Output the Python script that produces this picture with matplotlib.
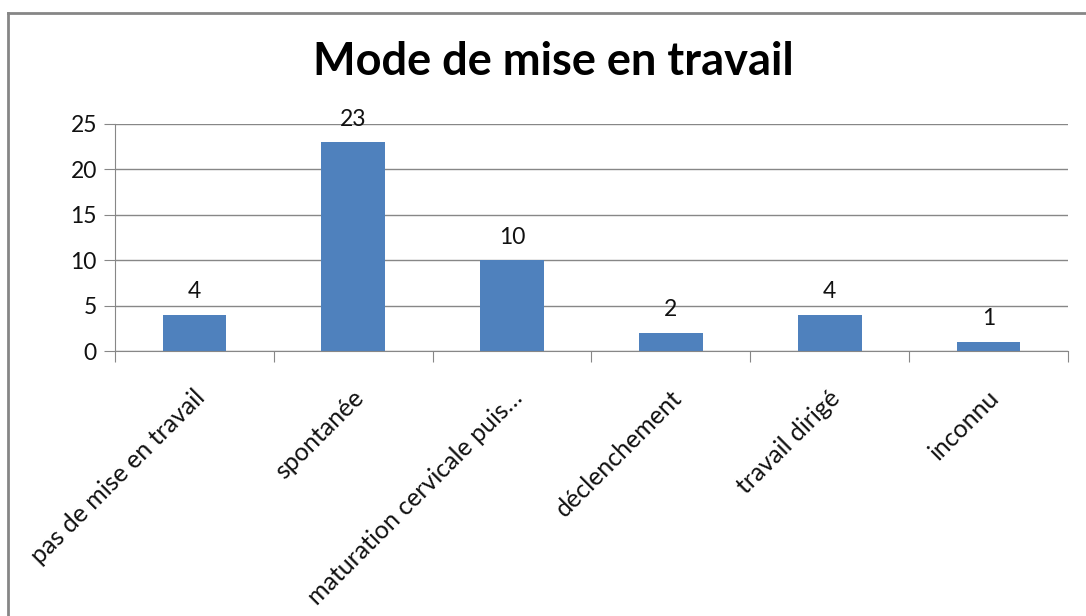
import matplotlib
matplotlib.use("Agg")
import matplotlib.pyplot as plt
from matplotlib.lines import Line2D
import numpy as np

categories = ["pas de mise en travail", "spontanée", "maturation cervicale puis…",
              "déclenchement", "travail dirigé", "inconnu"]
values = [4, 23, 10, 2, 4, 1]
yticks = [0, 5, 10, 15, 20, 25]

plt.rcParams['font.family'] = ['Lato', 'DejaVu Sans']

W, H = 1086, 616
fig = plt.figure(figsize=(W / 100, H / 100), dpi=100)
fig.patch.set_facecolor('white')

# outer chart border (only top and left visible)
fig.add_artist(Line2D([8 / W, 1.0], [1 - 12.5 / H, 1 - 12.5 / H], color='#868686', lw=2))
fig.add_artist(Line2D([8 / W, 8 / W], [0, 1 - 12.5 / H], color='#868686', lw=2))

ax = fig.add_axes([115 / W, 1 - 351 / H, (1068 - 115) / W, (351 - 124) / H])
x = np.arange(len(categories))
ax.bar(x, values, width=0.4, color='#4F81BD', zorder=3)
ax.set_xlim(-0.5, len(categories) - 0.5)
ax.set_ylim(0, 25)

grid_c = '#878787'
txt_c = '#111111'
ax.set_yticks(yticks)
ax.set_yticklabels([str(t) for t in yticks], fontsize=16.5)
ax.yaxis.grid(True, color=grid_c, lw=1, zorder=0)
ax.tick_params(axis='y', length=8, color=grid_c, pad=5, labelcolor=txt_c)

ax.set_xticks(np.arange(-0.5, len(categories)), labels=[''] * (len(categories) + 1))
ax.tick_params(axis='x', length=8, color=grid_c)
for s in ['top', 'right']:
    ax.spines[s].set_visible(False)
ax.spines['left'].set_color(grid_c)
ax.spines['bottom'].set_color(grid_c)
ax.spines['bottom'].set_zorder(4)

for i, (c, v) in enumerate(zip(categories, values)):
    ax.annotate(str(v), xy=(i, v), xytext=(0, 9), textcoords='offset points',
                ha='center', va='bottom', fontsize=16.5, color=txt_c)
    ax.annotate(c, xy=(i, 0), xycoords='data', xytext=(5, -31), textcoords='offset points',
                ha='right', va='center', rotation=45, rotation_mode='anchor',
                fontsize=18, color=txt_c, annotation_clip=False)

fig.text(553 / W, 1 - 62 / H, "Mode de mise en travail", ha='center', va='center',
         fontsize=32.5, fontweight='bold', color='black')

fig.savefig('out.png', dpi=100)
